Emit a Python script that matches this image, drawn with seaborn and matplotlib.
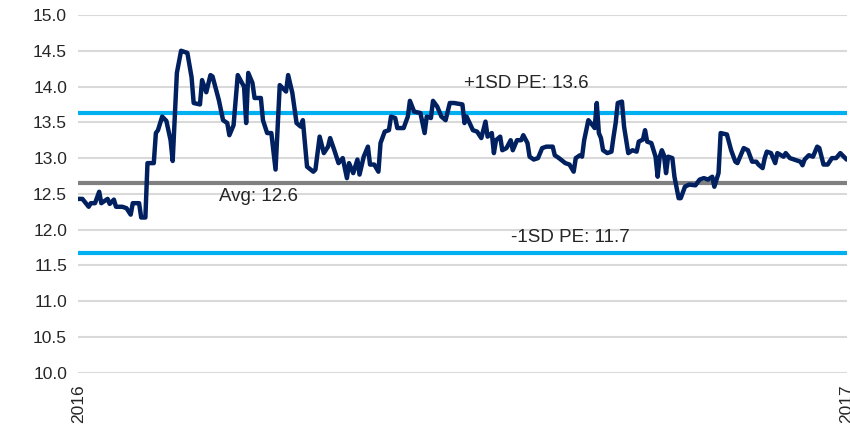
import pandas as pd
import numpy as np
import seaborn as sns
import matplotlib.pyplot as plt

sns.set_style('white')
plt.rcParams['font.family'] = ['Liberation Sans', 'DejaVu Sans']

# days since 2016-01-01 and forward PE
days = [0, 2, 5, 6, 8, 10, 11, 14, 15, 17, 18, 21, 23, 25, 26, 29, 30, 32, 33, 36,
        37, 38, 40, 42, 44, 45, 47, 49, 52, 54, 55, 58, 59, 61, 63, 64, 67, 69, 71, 72,
        74, 76, 78, 79, 80, 81, 83, 84, 87, 88, 90, 92, 94, 96, 99, 100, 102, 104, 106, 107,
        109, 112, 113, 115, 117, 119, 120, 122, 124, 126, 128, 129, 131, 133, 134, 136, 138, 139, 141, 143,
        144, 146, 148, 149, 151, 152, 155, 157, 158, 160, 163, 165, 166, 168, 169, 171, 173, 175, 177, 179,
        183, 184, 185, 188, 190, 192, 194, 195, 197, 198, 199, 201, 202, 204, 206, 207, 209, 211, 212, 214,
        215, 217, 219, 221, 223, 226, 227, 229, 232, 234, 236, 237, 239, 240, 241, 243, 245, 246, 247, 248,
        249, 250, 252, 254, 255, 256, 257, 259, 260, 262, 264, 266, 267, 269, 270, 271, 273, 275, 276, 277,
        278, 279, 280, 281, 283, 284, 286, 287, 289, 291, 294, 296, 298, 300, 302, 303, 305, 306, 309, 311,
        313, 314, 316, 317, 319, 321, 323, 324, 326, 327, 328, 330, 332, 333, 336, 337, 339, 341, 344, 345,
        346, 348, 350, 352, 353, 355, 357, 359, 361, 363, 364, 366]
pe = [12.43, 12.43, 12.32, 12.37, 12.37, 12.53, 12.37, 12.43, 12.36, 12.42, 12.32, 12.32, 12.30, 12.21, 12.37, 12.37, 12.17, 12.17, 12.93, 12.93,
      13.35, 13.39, 13.58, 13.52, 13.25, 12.96, 14.19, 14.50, 14.47, 14.13, 13.77, 13.75, 14.09, 13.92, 14.16, 14.14, 13.81, 13.53, 13.49, 13.32,
      13.46, 14.16, 14.05, 14.00, 13.49, 14.19, 14.05, 13.84, 13.84, 13.53, 13.35, 13.35, 12.84, 14.02, 13.93, 14.16, 13.91, 13.49, 13.44, 13.53,
      12.88, 12.81, 12.84, 13.30, 13.07, 13.16, 13.28, 13.11, 12.93, 13.00, 12.72, 12.93, 12.79, 12.98, 12.77, 13.02, 13.16, 12.91, 12.91, 12.81,
      13.21, 13.37, 13.39, 13.58, 13.56, 13.42, 13.42, 13.58, 13.80, 13.65, 13.63, 13.35, 13.58, 13.56, 13.80, 13.72, 13.58, 13.53, 13.77, 13.77,
      13.75, 13.49, 13.58, 13.39, 13.37, 13.28, 13.51, 13.30, 13.35, 13.07, 13.25, 13.30, 13.11, 13.14, 13.25, 13.11, 13.25, 13.25, 13.32, 13.21,
      13.02, 12.98, 13.00, 13.14, 13.16, 13.16, 13.04, 13.00, 12.93, 12.91, 12.81, 13.00, 13.04, 13.02, 13.25, 13.53, 13.46, 13.42, 13.77, 13.35,
      13.28, 13.11, 13.07, 13.09, 13.30, 13.49, 13.77, 13.79, 13.44, 13.07, 13.11, 13.09, 13.23, 13.26, 13.39, 13.23, 13.21, 13.02, 12.74, 13.02,
      13.11, 13.04, 12.79, 13.02, 13.00, 12.74, 12.44, 12.44, 12.60, 12.63, 12.62, 12.70, 12.72, 12.70, 12.74, 12.60, 12.79, 13.35, 13.33, 13.11,
      12.95, 12.93, 13.07, 13.14, 13.11, 12.95, 12.95, 12.91, 12.86, 13.00, 13.09, 13.07, 12.93, 13.07, 13.02, 13.07, 13.00, 12.98, 12.95, 12.90,
      12.98, 13.04, 13.02, 13.16, 13.14, 12.91, 12.91, 13.00, 13.00, 13.07, 13.04, 12.98]

avg_pe = 12.65
plus_sd = 13.63
minus_sd = 11.68

start = pd.Timestamp('2016-01-01')
end = pd.Timestamp('2017-01-01')
df = pd.DataFrame({'date': start + pd.to_timedelta(days, unit='D'), 'pe': pe})

fig = plt.figure(figsize=(8.5, 4.28), dpi=100)
ax = fig.add_axes([0.092, 0.129, 0.904, 0.836])

ax.set_yticks(np.arange(10, 15.01, 0.5))
ax.yaxis.grid(True, color='#d9d9d9', linewidth=1.5)
ax.set_axisbelow(True)

ax.axhline(plus_sd, color='#00b0f0', linewidth=3)
ax.axhline(minus_sd, color='#00b0f0', linewidth=3)
ax.axhline(avg_pe, color='#808080', linewidth=3)

sns.lineplot(data=df, x='date', y='pe', ax=ax, color='#002060', linewidth=3.2)

ax.text(start + pd.Timedelta(days=184), 14.04, '+1SD PE: 13.6', fontsize=13.5, color='#262626', va='center')
ax.text(start + pd.Timedelta(days=67), 12.46, 'Avg: 12.6', fontsize=13.5, color='#262626', va='center')
ax.text(start + pd.Timedelta(days=206), 11.89, '-1SD PE: 11.7', fontsize=13.5, color='#262626', va='center')

ax.set_xlim(start, end)
ax.set_ylim(10, 15)
ax.set_xticks([start, end])
ax.set_xticklabels(['2016', '2017'], rotation=90, fontsize=12.5, color='#262626')
ax.set_yticklabels([f'{v:.1f}' for v in np.arange(10, 15.01, 0.5)], fontsize=12.5, color='#262626')
ax.tick_params(length=0, pad=8)
ax.set_xlabel('')
ax.set_ylabel('')
sns.despine(ax=ax, left=True, bottom=True)

fig.savefig('out.png', dpi=100)
